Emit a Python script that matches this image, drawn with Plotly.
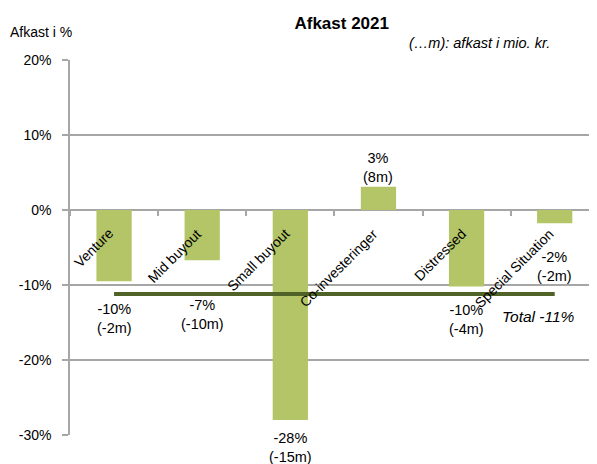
import plotly.graph_objects as go

# ---- data ----
categories = ["Venture", "Mid buyout", "Small buyout", "Co-investeringer", "Distressed", "Special Situation"]
returns_pct = [-9.5, -6.7, -28.0, 3.1, -10.2, -1.75]
pct_labels = ["-10%", "-7%", "-28%", "3%", "-10%", "-2%"]
mio_labels = ["(-2m)", "(-10m)", "(-15m)", "(8m)", "(-4m)", "(-2m)"]
total_return = -11.2
total_label = "Total -11%"
y_ticks = [-30, -20, -10, 0, 10, 20]
y_tick_labels = ["-30%", "-20%", "-10%", "0%", "10%", "20%"]

# ---- layout helpers (positions, not data) ----
label_y = [-14.5, -13.9, -31.6, 5.6, -14.6, -7.5]   # centre of each value label (axis units)
Y_MIN, Y_MAX = -30, 20
OFF = 8                      # page body margin of the browser
W, H = 597 - OFF, 464 - OFF
L, R, T, B = 70 - OFF, 597 - OFF, 60 - OFF, 435 - OFF
BAR = "#B3C566"
LINE = "#4F6228"
GRID = "#A6A6A6"
FONT = "Liberation Sans"


def px_x(px):  # page pixel -> paper x
    return (px - OFF - L) / (R - L)


def px_y(py):  # page pixel -> paper y
    return (B - (py - OFF)) / (B - T)


def val_y(v):  # axis value -> paper y (not clipped)
    return (v - Y_MIN) / (Y_MAX - Y_MIN)


fig = go.Figure()
fig.add_trace(go.Bar(
    x=categories, y=returns_pct, width=0.4,
    marker=dict(color=BAR, line=dict(width=0)),
    hoverinfo="skip", showlegend=False,
))
fig.add_trace(go.Scatter(
    x=[categories[0], categories[-1]], y=[total_return, total_return],
    mode="lines", line=dict(color=LINE, width=4),
    hoverinfo="skip", showlegend=False,
))

ann = []
for c, p, m, ly in zip(categories, pct_labels, mio_labels, label_y):
    ann.append(dict(x=c, y=val_y(ly), xref="x", yref="paper", text=f"{p}<br>{m}",
                    showarrow=False, xanchor="center", yanchor="middle",
                    font=dict(family=FONT, size=14.5, color="black")))
    ann.append(dict(x=c, y=0, xref="x", yref="y", text=c, textangle=-45,
                    showarrow=False, xanchor="right", yanchor="top",
                    xshift=5, yshift=-13,
                    font=dict(family=FONT, size=14, color="black")))

ann.append(dict(x=4.82, y=-14.2, xref="x", yref="y", text=f"<i>{total_label}</i>",
                showarrow=False, xanchor="center", yanchor="middle",
                font=dict(family=FONT, size=15.5, color="black")))
ann.append(dict(x=px_x(8), y=px_y(31.7), xref="paper", yref="paper", text="Afkast i %",
                showarrow=False, xanchor="left", yanchor="middle",
                font=dict(family=FONT, size=14, color="black")))
ann.append(dict(x=px_x(552), y=px_y(43.3), xref="paper", yref="paper",
                text="<i>(…m): afkast i mio. kr.</i>",
                showarrow=False, xanchor="right", yanchor="middle",
                font=dict(family=FONT, size=14.5, color="black")))

fig.update_layout(
    width=W, height=H,
    margin=dict(l=L, r=W - R, t=T, b=H - B, pad=0),
    paper_bgcolor="white", plot_bgcolor="white",
    title=dict(text="<b>Afkast 2021</b>", x=(311.7 - OFF) / W, xanchor="center",
               xref="paper", y=1 - (23.3 - OFF) / H, yanchor="middle", yref="container",
               font=dict(family=FONT, size=17, color="black")),
    annotations=ann,
    showlegend=False,
    xaxis=dict(
        type="category", range=[-0.5, 5.48], showgrid=False, zeroline=False,
        showticklabels=False, ticks="outside", tickson="boundaries",
        ticklen=5, tickwidth=1.5, tickcolor=GRID, showline=False,
        anchor="free", position=val_y(0), fixedrange=True,
    ),
    yaxis=dict(
        range=[Y_MIN, Y_MAX], tickvals=y_ticks, ticktext=y_tick_labels,
        showgrid=True, gridcolor=GRID, gridwidth=1.5, zeroline=False,
        showline=True, linecolor=GRID, linewidth=1.5,
        ticks="outside", ticklen=6, tickwidth=1.5, tickcolor=GRID,
        ticklabelstandoff=8,
        tickfont=dict(family=FONT, size=14, color="black"), fixedrange=True,
    ),
)

fig.write_html("out.html")
